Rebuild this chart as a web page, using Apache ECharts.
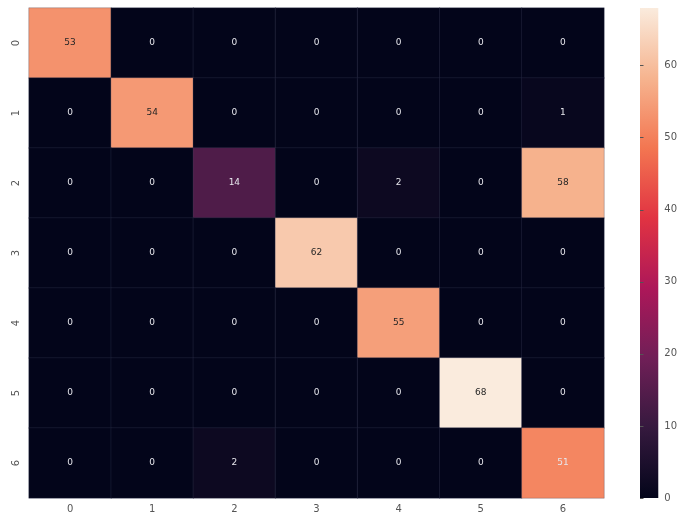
<!DOCTYPE html>
<html>
<head>
<meta charset="utf-8">
<script src="https://cdn.jsdelivr.net/npm/echarts@6/dist/echarts.min.js"></script>
<style>
  html, body { margin: 0; padding: 0; background: #fff; }
  #chart { width: 680px; height: 516px; }
</style>
</head>
<body>
<div id="chart"></div>
<script>
const xLabels = ["0", "1", "2", "3", "4", "5", "6"];
const yLabels = ["0", "1", "2", "3", "4", "5", "6"];
const matrix = [
  [53, 0, 0, 0, 0, 0, 0],
  [0, 54, 0, 0, 0, 0, 1],
  [0, 0, 14, 0, 2, 0, 58],
  [0, 0, 0, 62, 0, 0, 0],
  [0, 0, 0, 0, 55, 0, 0],
  [0, 0, 0, 0, 0, 68, 0],
  [0, 0, 2, 0, 0, 0, 51],
];
const colorMin = 0;
const colorMax = 68;
// rocket colormap sampled at i/7
const rocket = ["#03051a", "#35193e", "#701f57", "#ad1759", "#e13342", "#f37651", "#f6b48f", "#faebdd"];

const chart = echarts.init(document.getElementById("chart"), null, { renderer: "canvas" });

// light text on darker cells, dark text on the pale ones (like seaborn)
const cells = [];
matrix.forEach((row, r) => {
  row.forEach((v, c) => {
    cells.push({
      value: [c, r, v],
      label: { color: v >= 52 ? "#262626" : "#e6e6ec" },
    });
  });
});

// colorbar: second grid filled with the same ramp, bottom -> top
const barGradient = new echarts.graphic.LinearGradient(
  0, 1, 0, 0,
  rocket.map((color, i) => ({ offset: i / (rocket.length - 1), color }))
);

const option = {
  animation: false,
  backgroundColor: "#ffffff",
  grid: [
    { left: 29, right: 76, top: 8, bottom: 18 },
    { left: 640, width: 25, top: 8, bottom: 18, show: true, backgroundColor: barGradient, borderWidth: 0 },
  ],
  xAxis: [
    {
      type: "category",
      data: xLabels,
      gridIndex: 0,
      axisLine: { show: false },
      axisTick: { show: false },
      axisLabel: { color: "#555", fontSize: 10, fontFamily: "DejaVu Sans", margin: 6 },
    },
    {
      type: "value",
      gridIndex: 1,
      show: false,
      min: 0,
      max: 1,
    },
  ],
  yAxis: [
    {
      type: "category",
      data: yLabels,
      gridIndex: 0,
      inverse: true,
      axisLine: { show: false },
      axisTick: { show: false },
      axisLabel: { color: "#555", fontSize: 10, fontFamily: "DejaVu Sans", rotate: 90, margin: 8 },
    },
    {
      type: "value",
      gridIndex: 1,
      position: "right",
      min: colorMin,
      max: colorMax,
      interval: 10,
      axisLine: { show: false },
      axisTick: { show: true, length: 3.5, lineStyle: { color: "#555" } },
      splitLine: { show: false },
      axisLabel: { color: "#555", fontSize: 10, fontFamily: "DejaVu Sans", margin: 6, showMaxLabel: false },
    },
  ],
  visualMap: {
    type: "continuous",
    show: false,
    min: colorMin,
    max: colorMax,
    seriesIndex: 0,
    inRange: { color: rocket },
  },
  series: [
    {
      type: "heatmap",
      xAxisIndex: 0,
      yAxisIndex: 0,
      data: cells,
      label: { show: true, fontSize: 9, fontFamily: "DejaVu Sans" },
      itemStyle: { borderColor: "rgba(60,64,90,0.6)", borderWidth: 0.5 },
      emphasis: { disabled: true },
    },
  ],
};

chart.setOption(option);
</script>
</body>
</html>
